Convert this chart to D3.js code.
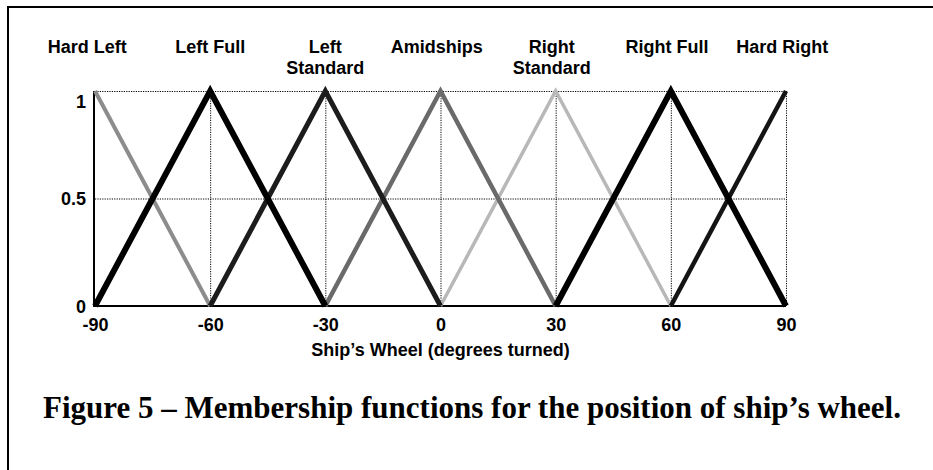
<!DOCTYPE html>
<html>
<head>
<meta charset="utf-8">
<script src="https://cdn.jsdelivr.net/npm/d3@7"></script>
<style>
  html, body { margin: 0; padding: 0; background: #fff; }
  svg { display: block; }
</style>
</head>
<body>
<svg id="chart" width="933" height="470"></svg>
<script>
// Membership function names (one triangle / shoulder per name)
const categories = ["Hard Left", "Left Full", "Left Standard", "Amidships",
                    "Right Standard", "Right Full", "Hard Right"];
// Break points of each membership function (degrees turned)
const xBreaks = [[-90, -60], [-90, -60, -30], [-60, -30, 0], [-30, 0, 30],
                 [0, 30, 60], [30, 60, 90], [60, 90]];
// Membership degree at each break point
const yValues = [[1, 0], [0, 1, 0], [0, 1, 0], [0, 1, 0],
                 [0, 1, 0], [0, 1, 0], [0, 1]];
// Where each name sits along the wheel axis
const labelAt = [-92, -60, -30, -1, 29, 59, 89];
// Axis ticks
const xTicks = [-90, -60, -30, 0, 30, 60, 90];
const xTickLabels = ["-90", "-60", "-30", "0", "30", "60", "90"];
const yTicks = [0, 0.5, 1];
const yTickLabels = ["0", "0.5", "1"];

const lineColor = ["#8c8c8c", "#000000", "#1c1c1c", "#6a6a6a", "#b8b8b8", "#000000", "#141414"];
const lineWidth = [4, 6, 5, 4.5, 3.5, 6, 4.5];
const drawOrder = [4, 0, 3, 2, 6, 1, 5];

const svg = d3.select("#chart");
const sans = "'Liberation Sans', Arial, Helvetica, sans-serif";

// Figure frame (left and top rule)
svg.append("path")
  .attr("d", "M8,470 V7 H933")
  .attr("fill", "none").attr("stroke", "#000").attr("stroke-width", 2);

const x = d3.scaleLinear().domain([-90, 90]).range([95, 786]);
const y = d3.scaleLinear().domain([0, 1]).range([306, 91]);

// Dotted grid
const grid = svg.append("g").attr("stroke", "#000").attr("stroke-width", 1)
  .attr("stroke-dasharray", "1.2,1.2").attr("fill", "none");
grid.selectAll("line.v").data(xTicks.slice(1)).join("line").attr("class", "v")
  .attr("x1", d => x(d) + 0.5).attr("x2", d => x(d) + 0.5)
  .attr("y1", y(1)).attr("y2", y(0));
grid.selectAll("line.h").data([0.5, 1]).join("line").attr("class", "h")
  .attr("x1", x(-90)).attr("x2", x(90))
  .attr("y1", d => y(d) + 0.5).attr("y2", d => y(d) + 0.5);

// Solid axes (left and bottom)
const xAxis = d3.axisBottom(x).tickValues(xTicks).tickSize(0).tickPadding(8)
  .tickFormat((d, i) => xTickLabels[i]);
const gx = svg.append("g").attr("transform", `translate(0,${y(0)})`).call(xAxis);
gx.select(".domain").attr("stroke", "#000").attr("stroke-width", 2)
  .attr("d", `M${x(-90) - 1},0H${x(90)}`);
gx.selectAll("text").attr("font-family", sans).attr("font-weight", "bold")
  .attr("font-size", 18).attr("fill", "#000").attr("dy", "0.95em");

const yAxis = d3.axisLeft(y).tickValues(yTicks).tickSize(0).tickPadding(8)
  .tickFormat((d, i) => yTickLabels[i]);
const gy = svg.append("g").attr("transform", `translate(${x(-90) - 1},0)`).call(yAxis);
gy.select(".domain").attr("stroke", "#000").attr("stroke-width", 2)
  .attr("d", `M0,${y(1)}V${y(0) + 1}`);
gy.selectAll("text").attr("font-family", sans).attr("font-weight", "bold")
  .attr("font-size", 18).attr("fill", "#000")
  .attr("dy", d => d === 1 ? "0.9em" : "0.35em");

// Membership functions
const line = d3.line().x(d => x(d[0])).y(d => y(d[1]));
svg.append("g").selectAll("path").data(drawOrder).join("path")
  .attr("d", i => line(xBreaks[i].map((v, k) => [v, yValues[i][k]])))
  .attr("fill", "none")
  .attr("stroke", i => lineColor[i])
  .attr("stroke-width", i => lineWidth[i])
  .attr("stroke-linejoin", "miter").attr("stroke-miterlimit", 10)
  .attr("stroke-linecap", "butt");

// Function names above the plot
const names = svg.append("g").attr("font-family", sans).attr("font-weight", "bold")
  .attr("font-size", 18).attr("text-anchor", "middle").attr("fill", "#000");
names.selectAll("text").data(categories).join("text")
  .attr("x", (d, i) => x(labelAt[i])).attr("y", 53)
  .each(function (d) {
    const words = d.split(" ");
    const t = d3.select(this);
    if (d.endsWith("Standard")) {
      t.append("tspan").attr("x", t.attr("x")).text(words[0]);
      t.append("tspan").attr("x", t.attr("x")).attr("dy", 21).text(words[1]);
    } else {
      t.text(d);
    }
  });

// Axis title
svg.append("text").attr("x", x(0)).attr("y", 356)
  .attr("text-anchor", "middle").attr("font-family", sans)
  .attr("font-weight", "bold").attr("font-size", 18)
  .text("Ship\u2019s Wheel (degrees turned)");

// Caption
svg.append("text").attr("x", 472).attr("y", 418)
  .attr("text-anchor", "middle")
  .attr("font-family", "'Liberation Serif', 'Times New Roman', Times, serif")
  .attr("font-weight", "bold").attr("font-size", 31)
  .text("Figure 5 \u2013 Membership functions for the position of ship\u2019s wheel.");
</script>
</body>
</html>
